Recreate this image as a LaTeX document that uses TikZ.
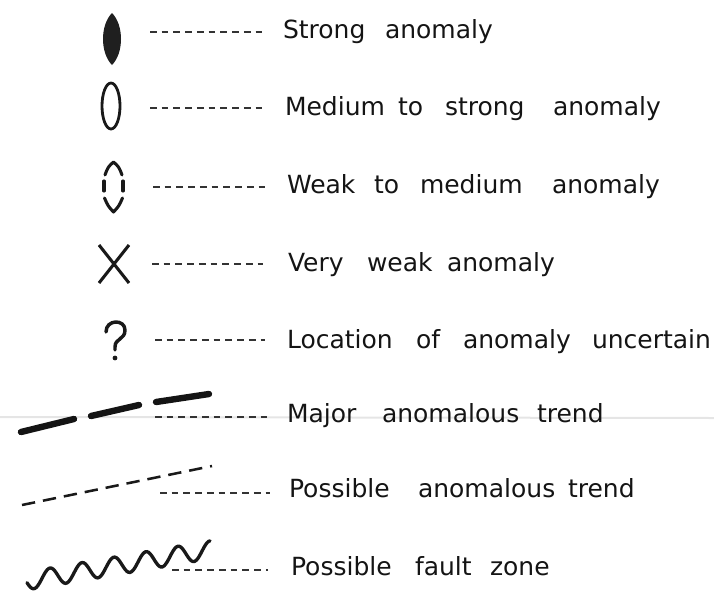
\documentclass[tikz,border=0pt]{standalone}
\usepackage{fontspec}
\setmainfont{DejaVu Sans}
\begin{document}
\begin{tikzpicture}[x=0.75pt,y=-0.75pt,
  word/.style={anchor=base west, inner sep=0pt, outer sep=0pt,
    font=\fontsize{18.75pt}{22pt}\selectfont, text=black!92},
  leader/.style={line width=1.1pt, dash pattern=on 5pt off 3.8pt, black!80},
  sym/.style={line width=2.3pt, draw=black!90, line cap=round, line join=round},
  trend/.style={line width=4.8pt, draw=black!92, line cap=round},
  ptrend/.style={line width=1.9pt, draw=black!90, dash pattern=on 10pt off 6pt}]
\useasboundingbox (0,0) rectangle (714,593);
% faint paper crease
\draw[line width=1.5pt, black!10] (0,417) -- (714,418);

% ---------- symbols ----------
% strong: filled lens
\fill[black!88] (112,13) .. controls (124,25) and (124,53) .. (112,65)
  .. controls (100,53) and (100,25) .. (112,13);
% medium to strong: open ellipse
\draw[sym, line width=2.1pt] (111,106) ellipse [x radius=9, y radius=23];
% weak to medium: dashed ellipse
\draw[sym] (105,175) .. controls (108,167) .. (113.5,162) .. controls (119,167) .. (122,175);
\draw[sym] (104.5,198) .. controls (108,206) .. (113.5,212) .. controls (119,206) .. (122.5,198);
\draw[sym] (104,181) -- (104,191);
\draw[sym] (123,181) -- (123,191);
% very weak: X
\draw[sym, line width=2.3pt, line cap=butt] (99,245) -- (129,283);
\draw[sym, line width=2.3pt, line cap=butt] (129,245) -- (99,283);
% uncertain: ?
\draw[sym, line width=2.6pt] (106,332) .. controls (106,319) and (125,319) .. (125,330)
  .. controls (125,340) and (115,338) .. (115,347) -- (115,350);
\fill[black!90] (115,358) circle [radius=2.4];
% major trend
\draw[trend] (21,432) -- (74,419);
\draw[trend] (91,416) -- (139,405);
\draw[trend] (156,402) -- (209,394);
% possible trend
\draw[ptrend] (22,505) -- (212,466);
% fault zone wave
\draw[line width=2.5pt, black!90, line cap=round]
  plot[smooth, samples=120, domain=27:210]
  (\x, {577 - 0.17*(\x-50) - 9*cos(11.25*(\x-50))});

% ---------- leaders ----------
\coordinate (a1) at (150,32);  \coordinate (b1) at (262,32);
\coordinate (a2) at (150,108); \coordinate (b2) at (262,108);
\coordinate (a3) at (153,187); \coordinate (b3) at (265,187);
\coordinate (a4) at (152,264); \coordinate (b4) at (263,264);
\coordinate (a5) at (155,340); \coordinate (b5) at (265,340);
\coordinate (a6) at (155,417); \coordinate (b6) at (268,417);
\coordinate (a7) at (160,493); \coordinate (b7) at (270,493);
\coordinate (a8) at (172,570); \coordinate (b8) at (268,570);
\foreach \i in {1,...,8} { \draw[leader] (a\i) -- (b\i); }

% ---------- labels ----------
\node[word] (t11) at (283,38) {Strong};
\node[word] (t12) at (385,38) {anomaly};

\node[word] (t21) at (285,115) {Medium};
\node[word] (t22) at (398,115) {to};
\node[word] (t23) at (445,115) {strong};
\node[word] (t24) at (553,115) {anomaly};

\node[word] (t31) at (287,193) {Weak};
\node[word] (t32) at (374,193) {to};
\node[word] (t33) at (420,193) {medium};
\node[word] (t34) at (552,193) {anomaly};

\node[word] (t41) at (288,271) {Very};
\node[word] (t42) at (367,271) {weak};
\node[word] (t43) at (447,271) {anomaly};

\node[word] (t51) at (287,348) {Location};
\node[word] (t52) at (416,348) {of};
\node[word] (t53) at (463,348) {anomaly};
\node[word] (t54) at (592,348) {uncertain};

\node[word] (t61) at (287,422) {Major};
\node[word] (t62) at (382,422) {anomalous};
\node[word] (t63) at (537,422) {trend};

\node[word] (t71) at (289,497) {Possible};
\node[word] (t72) at (418,497) {anomalous};
\node[word] (t73) at (568,497) {trend};

\node[word] (t81) at (291,575) {Possible};
\node[word] (t82) at (415,575) {fault};
\node[word] (t83) at (490,575) {zone};
\end{tikzpicture}
\end{document}
